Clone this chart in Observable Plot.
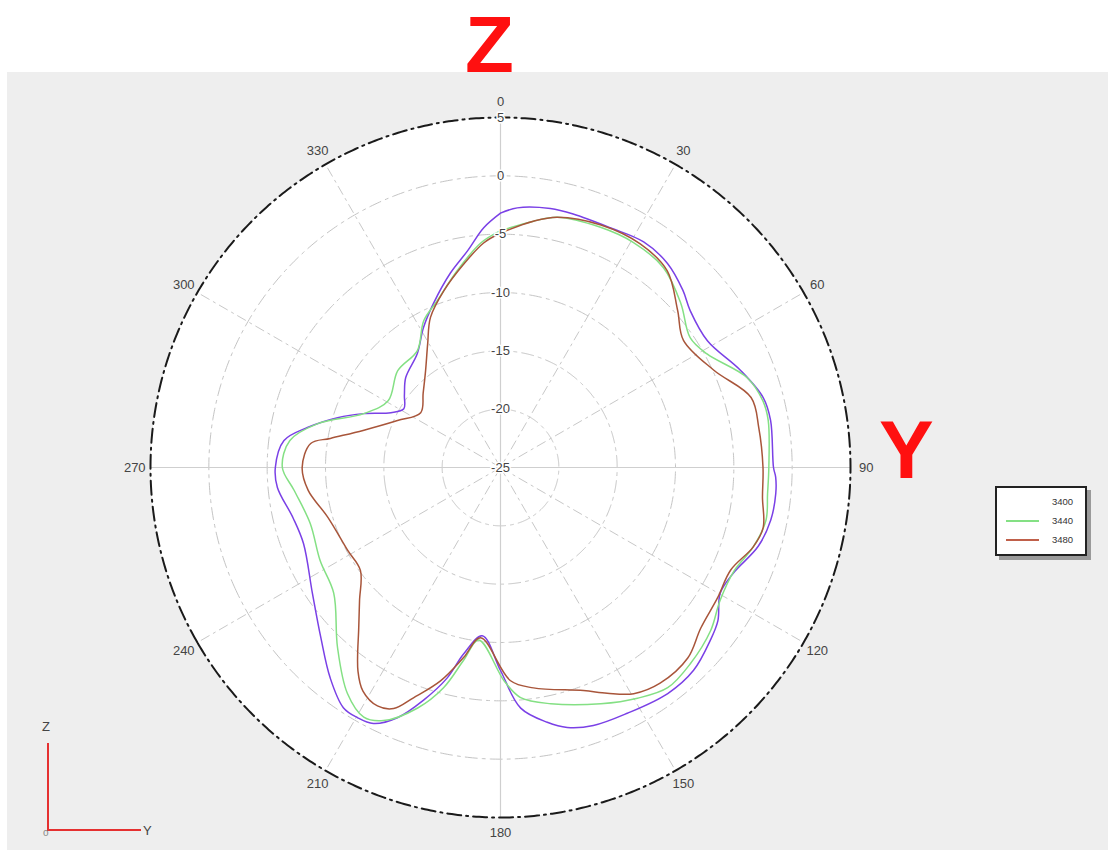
<!DOCTYPE html>
<html>
<head>
<meta charset="utf-8">
<script src="https://cdn.jsdelivr.net/npm/d3@7"></script>
<script src="https://cdn.jsdelivr.net/npm/@observablehq/plot@0.6"></script>
<style>
html,body{margin:0;padding:0;background:#fff;width:1108px;height:850px;overflow:hidden;font-family:"Liberation Sans",Arial,sans-serif;}
#panel{position:absolute;left:7px;top:72px;right:0;bottom:0;background:#eeeeee;}
#chart{position:absolute;left:0;top:0;}
.big{position:absolute;color:#ff1010;font-weight:bold;font-family:"Liberation Sans",Arial,sans-serif;line-height:1;}
#zlab{left:465px;top:5px;font-size:80px;}
#ylab{left:879px;top:409px;font-size:82px;}
#legend{position:absolute;left:995px;top:486px;width:88px;height:66px;background:#fff;border:2px solid #222;box-shadow:4px 4px 0 #9a9a9a;font-size:9.5px;color:#333;}
.row{position:absolute;left:0;width:88px;height:14px;}
.row .ln{position:absolute;left:9px;top:6px;width:33px;height:0;border-top:2px solid transparent;}
.row .tx{position:absolute;left:55px;top:0;line-height:14px;}
#triad .v{position:absolute;left:47px;top:743px;width:2px;height:88px;background:#e53030;}
#triad .h{position:absolute;left:47px;top:829px;width:94px;height:2px;background:#e53030;}
#triad .t{position:absolute;font-size:13px;color:#444;}
</style>
</head>
<body>
<div id="panel"></div>
<div id="chart"></div>
<div class="big" id="zlab">Z</div>
<div class="big" id="ylab">Y</div>
<div id="legend"></div>
<div id="triad">
  <div class="v"></div><div class="h"></div>
  <div class="t" style="left:42px;top:719px;">Z</div>
  <div class="t" style="left:143px;top:823px;">Y</div>
  <div class="t" style="left:43px;top:827px;font-size:10px;color:#888;">o</div>
</div>
<script>
// ---- data ----
const angleTicks = [0, 30, 60, 90, 120, 150, 180, 210, 240, 270, 300, 330];
const radialTicks = [-25, -20, -15, -10, -5, 0, 5];
const seriesNames = ["3400", "3440", "3480"];
const seriesColors = ["#7a40e6", "#84e084", "#a8553a"];
const legendLineColors = ["#ffffff", "#84e084", "#c0604a"];

const ang3400 = [0, 3.7, 10.9, 16, 24.6, 32.4, 39.3, 45.8, 50.4, 58.5, 68, 75.1, 80.1, 90, 92, 95.4, 101, 107, 114.5, 119.8, 125.2, 129.5, 136.4, 143.5, 152.7, 160.2, 165.6, 169.6, 175.2, 180, 186.2, 191.2, 194.2, 198.3, 202.4, 206.4, 209.8, 213.2, 219, 226.6, 236.2, 248.9, 256.4, 264.9, 270, 277.1, 281.7, 287, 291.5, 296.6, 301.3, 306.9, 313.5, 323.9, 331.2, 337.8, 345.5, 351.4, 356, 360];
const val3400 = [-3.2, -2.7, -2.4, -2.4, -2.4, -2.1, -2.4, -3.2, -3.9, -4.2, -2.8, -1.7, -1.5, -1.6, -1.4, -1.3, -1.4, -1.9, -3.1, -3.3, -2.2, -1.7, -1.0, -0.9, -1.3, -1.5, -2.0, -2.8, -4.3, -7.6, -10.5, -8.7, -6.4, -4.0, -1.8, -0.5, -0.3, -0.4, -1.8, -3.8, -5.6, -6.9, -6.7, -5.8, -5.7, -6.3, -8.1, -10.4, -12.4, -14.5, -15.3, -14.7, -13.8, -12.9, -11.3, -9.8, -7.8, -6.2, -4.4, -3.2];

const ang3440 = [0, 7.6, 12.8, 22.6, 30.6, 39.2, 47.7, 55.6, 61.2, 70, 75.7, 80, 90, 95.6, 101.3, 107.5, 113.8, 121.2, 127.8, 135.9, 142.8, 149.3, 157, 168, 175, 179, 187.2, 190.8, 194.5, 199, 204.8, 208.7, 214.1, 222.2, 233, 242.7, 253.6, 263.7, 270, 277.3, 283.5, 291.5, 300.7, 313.3, 324.6, 332.4, 339.3, 347.7, 354.9, 360];
const val3440 = [-4.7, -3.7, -3.0, -2.7, -2.6, -2.9, -4.1, -5.3, -4.8, -2.5, -1.8, -1.7, -2.0, -2.0, -1.8, -2.3, -3.1, -3.0, -2.2, -1.6, -1.3, -2.0, -3.0, -4.3, -5.2, -6.7, -10.1, -8.2, -5.5, -3.2, -1.1, -0.6, -1.6, -4.2, -7.1, -7.6, -8.0, -7.2, -6.3, -6.8, -8.9, -12.4, -13.8, -12.9, -12.7, -10.8, -9.7, -7.7, -5.7, -4.7];

const ang3480 = [0, 7.6, 12.8, 22.5, 32, 40.3, 48.4, 55.2, 65.5, 74.4, 81.2, 90, 96.5, 102.9, 107.5, 114, 121, 128.7, 135.5, 143.5, 149.5, 154.7, 159.6, 171.5, 177.3, 186.7, 191, 195.7, 200.7, 203.9, 207.3, 211.6, 215, 221.6, 226.7, 233.7, 241.5, 253.9, 263.2, 270, 277.2, 279.7, 285.1, 294.5, 304.5, 313.9, 322.3, 329.5, 335, 342.2, 349.7, 355.7, 360];
const val3480 = [-4.9, -3.7, -3.0, -2.5, -2.4, -2.9, -4.7, -5.9, -4.9, -2.7, -2.6, -2.5, -2.4, -1.9, -2.3, -3.4, -3.3, -3.0, -2.1, -2.0, -2.5, -3.6, -4.6, -5.9, -6.7, -10.3, -8.4, -6.0, -3.9, -2.4, -2.0, -2.5, -3.7, -6.7, -8.4, -10.1, -10.1, -9.6, -8.4, -8.0, -8.6, -10.2, -12.8, -15.3, -16.7, -15.8, -14.5, -12.7, -10.8, -9.1, -7.3, -5.7, -4.9];

// ---- build ----
const rMin = -25, rMax = 5, span = rMax - rMin;
const lon = a => 180 - a;           // clockwise from top
const lat = v => 90 - (v - rMin);   // centre = rMin
const labelR = span * 1.045;

const allAng = [ang3400, ang3440, ang3480];
const allVal = [val3400, val3440, val3480];
const pts = seriesNames.flatMap((name, i) =>
  allAng[i].map((a, j) => ({series: name, angle: a, value: allVal[i][j]})));

const circle = r => d3.geoCircle().center([0, 90]).radius(r).precision(0.5)();
const ringVals = radialTicks.filter(v => v > rMin && v < rMax);

const plot = Plot.plot({
  width: 1108,
  height: 850,
  marginLeft: 150,
  marginRight: 258,
  marginTop: 117,
  marginBottom: 33,
  style: {background: "transparent", fontFamily: "Liberation Sans, Arial, sans-serif"},
  projection: {
    type: "azimuthal-equidistant",
    rotate: [0, -90],
    domain: circle(span),
    clip: false
  },
  color: {domain: seriesNames, range: seriesColors},
  marks: [
    Plot.geo([span], {geometry: r => circle(r), fill: "white", stroke: "none"}),
    Plot.geo(ringVals, {geometry: v => circle(v - rMin), fill: "none", stroke: "#c4c4c4", strokeWidth: 1, strokeDasharray: "12,5,3,5"}),
    Plot.link(angleTicks.filter(a => a % 90 !== 0), {x1: a => lon(a), y1: 90, x2: a => lon(a), y2: 90 - span, stroke: "#c8c8c8", strokeWidth: 1, strokeDasharray: "10,4,3,4"}),
    Plot.link(angleTicks.filter(a => a % 90 === 0), {x1: a => lon(a), y1: 90, x2: a => lon(a), y2: 90 - span, stroke: "#cfcfcf", strokeWidth: 1.2}),
    Plot.geo([span], {geometry: r => circle(r), fill: "none", stroke: "#1a1a1a", strokeWidth: 2, strokeDasharray: "14,5,2,5"}),
    Plot.line(pts, {x: d => lon(d.angle), y: d => lat(d.value), z: "series", stroke: "series", strokeWidth: 1.5, curve: "catmull-rom"}),
    Plot.text(radialTicks, {x: 180, y: v => lat(v), text: v => String(v), fill: "#444", stroke: "white", strokeWidth: 3, fontSize: 13}),
    Plot.text(angleTicks, {x: a => lon(a), y: 90 - labelR, text: a => String(a), fill: "#444", fontSize: 13})
  ]
});
document.getElementById("chart").appendChild(plot);

// legend
const leg = document.getElementById("legend");
seriesNames.forEach((name, i) => {
  const row = document.createElement("div");
  row.className = "row";
  row.style.top = (7 + i * 19) + "px";
  const ln = document.createElement("div");
  ln.className = "ln";
  ln.style.borderTopColor = legendLineColors[i];
  const tx = document.createElement("div");
  tx.className = "tx";
  tx.textContent = name;
  row.appendChild(ln); row.appendChild(tx);
  leg.appendChild(row);
});
</script>
</body>
</html>
